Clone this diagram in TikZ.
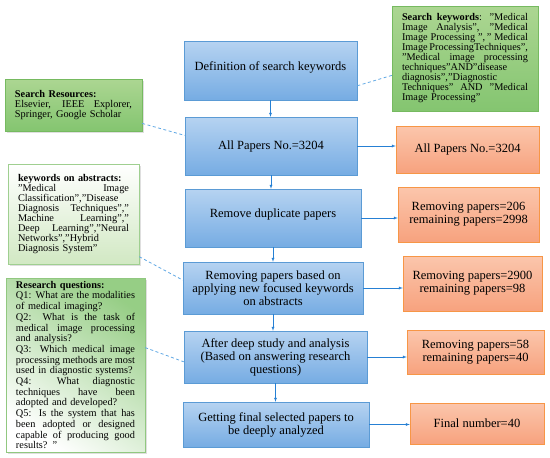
\documentclass[tikz,border=0pt]{standalone}
\usepackage{fontspec}
\setmainfont{Liberation Serif}
\usetikzlibrary{shadows}
\definecolor{bluetop}{RGB}{182,211,241}
\definecolor{bluebot}{RGB}{118,172,227}
\definecolor{blueline}{RGB}{91,155,213}
\definecolor{orgtop}{RGB}{251,198,172}
\definecolor{orgbot}{RGB}{247,162,126}
\definecolor{orgline}{RGB}{247,150,70}
\definecolor{grntop}{RGB}{172,214,146}
\definecolor{grnbot}{RGB}{132,197,112}
\definecolor{grnline}{RGB}{118,186,96}
\definecolor{linkblue}{RGB}{38,128,212}
\definecolor{dashblue}{RGB}{96,168,228}
\newlength\notewd
\tikzset{
  stage/.style={draw=blueline,top color=bluetop,bottom color=bluebot,align=center,
    font=\fontsize{12.5}{13}\selectfont,inner sep=2pt},
  tally/.style={draw=orgline,top color=orgtop,bottom color=orgbot,align=center,
    font=\fontsize{12.5}{13}\selectfont,inner sep=2pt},
  note/.style={draw=grnline,top color=grntop,bottom color=grnbot,align=left,
    font=\fontsize{10.3}{10}\selectfont,inner xsep=10pt,inner ysep=2pt},
  note width/.style={text width=#1,execute at begin node={\setlength\notewd{#1}}},
  paper/.style={drop shadow={opacity=0.25,shadow xshift=2pt,shadow yshift=-2pt}}
}
\newcommand{\stagebox}[6]{\node[stage,minimum width=#4pt,minimum height=#5pt] (#1) at (#2,#3) {#6};}
\newcommand{\tallybox}[6]{\node[tally,minimum width=#4pt,minimum height=#5pt] (#1) at (#2,#3) {#6};}
\newcommand{\nextstage}[2]{\draw[linkblue,->,>=latex] (#1.south) -- (#1.south |- #2.north);}
\newcommand{\counted}[2]{\draw[linkblue,->,>=latex] (#1.east) -- (#1.east -| #2.west);}
\newcommand{\hint}[2]{\draw[dashblue,thick,dash pattern=on 3pt off 2.5pt] (#1) -- (#2);}
% a line spread over the whole note width
\newcommand{\jl}[1]{{\spaceskip=0pt\xspaceskip=0pt\makebox[\notewd][s]{#1}}\\}

\begin{document}
\begin{tikzpicture}[x=1pt,y=-1pt]
    \useasboundingbox (0,0) rectangle (550,458);
    % main steps
    \stagebox{b1}{270.5}{70.5}{173}{59}{Definition of search keywords\\[-4pt]\mbox{}}
    \stagebox{b2}{271}{146}{172}{58}{All Papers No.=3204}
    \stagebox{b3}{273}{218}{176}{58}{Remove duplicate papers\\[-4pt]\mbox{}}
    \stagebox{b4}{273}{288}{180}{52}{Removing papers based on\\applying new focused keywords\\on abstracts}
    \stagebox{b5}{275.5}{357}{183}{52}{After deep study and analysis\\(Based on answering research\\questions)}
    \stagebox{b6}{276}{424.5}{186}{45}{Getting final selected papers to\\be deeply analyzed}
    \nextstage{b1}{b2}\nextstage{b2}{b3}\nextstage{b3}{b4}
    \nextstage{b4}{b5}\nextstage{b5}{b6}
    % counts
    \tallybox{o1}{467.5}{149.5}{143}{47}{All Papers No.=3204}
    \tallybox{o2}{468.5}{214.5}{141}{55}{Removing papers=206\\remaining papers=2998}
    \tallybox{o3}{472.5}{283.5}{139}{55}{Removing papers=2900\\remaining papers=98}
    \tallybox{o4}{475.5}{352}{137}{44}{Removing papers=58\\remaining papers=40}
    \tallybox{o5}{477}{423.5}{134}{41}{Final number=40}
    \counted{b2}{o1}\counted{b3}{o2}\counted{b4}{o3}
    \counted{b5}{o4}\counted{b6}{o5}
    % notes
    \node[note,note width=126pt,minimum height=105pt] (g0) at (465,58.5) {%
      \jl{\textbf{Search keywords}: "Medical}
      \jl{Image Analysis", "Medical}
      \jl{Image Processing '',\," Medical}
      \jl{Image ProcessingTechniques'',}
      \jl{''Medical image processing}
      techniques''AND''disease\\
      diagnosis'',''Diagnostic\\
      \jl{Techniques'' AND ''Medical}
      Image Processing''};
    \node[note,paper,note width=117pt,minimum height=52pt] (g1) at (73.5,105) {%
      \textbf{Search Resources:}\\
      \jl{Elsevier, IEEE Explorer,}
      Springer, Google Scholar\par\vspace*{16pt}};
    \node[note,paper,top color=white,bottom color=grntop!55,draw=grnline!70,
      note width=111pt,minimum height=100pt] (g2) at (73.5,214) {%
      \textbf{keywords on abstracts:}\\
      \jl{''Medical Image}
      Classification'',''Disease\\
      \jl{Diagnosis Techniques'',''}
      \jl{Machine Learning'',''}
      \jl{Deep Learning'',''Neural}
      Networks'',''Hybrid\\
      Diagnosis System''};
    \node[note,paper,top color=grnbot!85,bottom color=white,shading angle=-35,
      draw=grnline!80,note width=119pt,minimum height=174pt,
      font=\fontsize{10.3}{10.7}\selectfont] (g3) at (75.5,365) {%
      \textbf{Research questions:}\\
      \jl{Q1: What are the modalities}
      of medical imaging?\\
      \jl{Q2: What is the task of}
      \jl{medical image processing}
      and analysis?\\
      \jl{Q3: Which medical image}
      \jl{processing methods are most}
      used in diagnostic systems?\\
      \jl{Q4: What diagnostic}
      \jl{techniques have been}
      adopted and developed?\\
      \jl{Q5: Is the system that has}
      \jl{been adopted or designed}
      \jl{capable of producing good}
      results? "};
    \hint{g0.193}{b1.-10}\hint{g1.-15}{b2.173}
    \hint{g2.-33}{b4.175}\hint{g3.14}{b5.183}
\end{tikzpicture}
\end{document}
